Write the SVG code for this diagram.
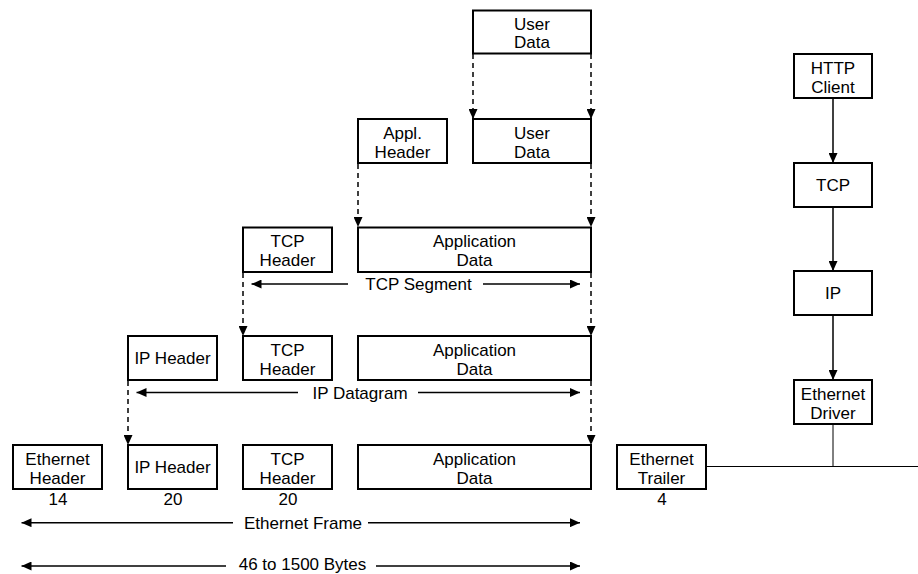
<svg xmlns="http://www.w3.org/2000/svg" width="918" height="574" viewBox="0 0 918 574">
<style>
.box{fill:#fff;stroke:#000;stroke-width:2}
.t{font-family:"Liberation Sans",Arial,sans-serif;font-size:17px;fill:#000;text-anchor:middle}
.dash{stroke:#000;stroke-width:1.5;stroke-dasharray:5 4;fill:none}
.arr{stroke:#000;stroke-width:1.5;fill:none}
.thin{stroke:#000;stroke-width:1;fill:none}
</style>
<defs>
<marker id="ah" markerUnits="userSpaceOnUse" markerWidth="10" markerHeight="9" refX="10" refY="4.5" orient="auto" viewBox="0 0 10 9">
<path d="M0,0 L10,4.5 L0,9 z" fill="#000" stroke="none"/>
</marker>
</defs>
<rect width="918" height="574" fill="#fff"/>
<g id="connectors">
<line class="dash" x1="473" y1="54" x2="473" y2="119" marker-end="url(#ah)"/>
<line class="dash" x1="591" y1="54" x2="591" y2="119" marker-end="url(#ah)"/>
<line class="dash" x1="358" y1="164" x2="358" y2="227" marker-end="url(#ah)"/>
<line class="dash" x1="591" y1="164" x2="591" y2="227" marker-end="url(#ah)"/>
<line class="dash" x1="243" y1="273" x2="243" y2="336" marker-end="url(#ah)"/>
<line class="dash" x1="591" y1="273" x2="591" y2="336" marker-end="url(#ah)"/>
<line class="dash" x1="128" y1="381" x2="128" y2="445" marker-end="url(#ah)"/>
<line class="dash" x1="591" y1="381" x2="591" y2="445" marker-end="url(#ah)"/>
<line class="arr" x1="833" y1="99" x2="833" y2="163" marker-end="url(#ah)"/>
<line class="arr" x1="833" y1="208" x2="833" y2="271" marker-end="url(#ah)"/>
<line class="arr" x1="833" y1="316" x2="833" y2="380" marker-end="url(#ah)"/>
<line class="thin" x1="833" y1="425" x2="833" y2="466.5"/>
<line class="thin" x1="707" y1="466.5" x2="918" y2="466.5"/>
<line class="arr" x1="348" y1="284" x2="251.5" y2="284" marker-end="url(#ah)"/>
<line class="arr" x1="483" y1="284" x2="580" y2="284" marker-end="url(#ah)"/>
<line class="arr" x1="298" y1="392.5" x2="136.5" y2="392.5" marker-end="url(#ah)"/>
<line class="arr" x1="418" y1="392.5" x2="580" y2="392.5" marker-end="url(#ah)"/>
<line class="arr" x1="233" y1="522.7" x2="21.5" y2="522.7" marker-end="url(#ah)"/>
<line class="arr" x1="368" y1="522.7" x2="580" y2="522.7" marker-end="url(#ah)"/>
<line class="arr" x1="226" y1="566" x2="21.5" y2="566" marker-end="url(#ah)"/>
<line class="arr" x1="376" y1="566" x2="580" y2="566" marker-end="url(#ah)"/>
</g>
<g id="labels">
<text class="t" x="418.5" y="290">TCP Segment</text>
<text class="t" x="360" y="398.5">IP Datagram</text>
<text class="t" x="303" y="528.8">Ethernet Frame</text>
<text class="t" x="302.5" y="570">46 to 1500 Bytes</text>
<text class="t" x="58" y="505">14</text>
<text class="t" x="173" y="505">20</text>
<text class="t" x="288" y="505">20</text>
<text class="t" x="662" y="505">4</text>
</g>
<g id="user-data-1"><rect class="box" x="473" y="10.5" width="118" height="43"/><text class="t" x="532" y="29.5">User</text><text class="t" x="532" y="48">Data</text></g>
<g id="appl-header"><rect class="box" x="358" y="119" width="89" height="44"/><text class="t" x="402.5" y="138.5">Appl.</text><text class="t" x="402.5" y="157.5">Header</text></g>
<g id="user-data-2"><rect class="box" x="473" y="119" width="118" height="44"/><text class="t" x="532" y="138.5">User</text><text class="t" x="532" y="157.5">Data</text></g>
<g id="tcp-header-1"><rect class="box" x="243" y="227.5" width="89" height="44.5"/><text class="t" x="287.5" y="246.7">TCP</text><text class="t" x="287.5" y="265.7">Header</text></g>
<g id="app-data-1"><rect class="box" x="358" y="227.5" width="233" height="44.5"/><text class="t" x="474.5" y="246.7">Application</text><text class="t" x="474.5" y="265.7">Data</text></g>
<g id="ip-header-2"><rect class="box" x="128" y="336" width="89" height="44"/><text class="t" x="172.5" y="364">IP Header</text></g>
<g id="tcp-header-2"><rect class="box" x="243" y="336" width="89" height="44"/><text class="t" x="287.5" y="355.5">TCP</text><text class="t" x="287.5" y="374.5">Header</text></g>
<g id="app-data-2"><rect class="box" x="358" y="336" width="233" height="44"/><text class="t" x="474.5" y="355.5">Application</text><text class="t" x="474.5" y="374.5">Data</text></g>
<g id="eth-header"><rect class="box" x="13" y="445" width="89" height="44"/><text class="t" x="57.5" y="464.5">Ethernet</text><text class="t" x="57.5" y="483.5">Header</text></g>
<g id="ip-header-3"><rect class="box" x="128" y="445" width="89" height="44"/><text class="t" x="172.5" y="473">IP Header</text></g>
<g id="tcp-header-3"><rect class="box" x="243" y="445" width="89" height="44"/><text class="t" x="287.5" y="464.5">TCP</text><text class="t" x="287.5" y="483.5">Header</text></g>
<g id="app-data-3"><rect class="box" x="358" y="445" width="233" height="44"/><text class="t" x="474.5" y="464.5">Application</text><text class="t" x="474.5" y="483.5">Data</text></g>
<g id="eth-trailer"><rect class="box" x="617" y="445" width="89" height="44"/><text class="t" x="661.5" y="464.5">Ethernet</text><text class="t" x="661.5" y="483.5">Trailer</text></g>
<g id="http-client"><rect class="box" x="794" y="54" width="78" height="44"/><text class="t" x="833" y="73.5">HTTP</text><text class="t" x="833" y="92.5">Client</text></g>
<g id="tcp"><rect class="box" x="794" y="163" width="78" height="44"/><text class="t" x="833" y="191">TCP</text></g>
<g id="ip"><rect class="box" x="794" y="271" width="78" height="44"/><text class="t" x="833" y="299">IP</text></g>
<g id="eth-driver"><rect class="box" x="794" y="380" width="78" height="44"/><text class="t" x="833" y="399.5">Ethernet</text><text class="t" x="833" y="418.5">Driver</text></g>
</svg>
